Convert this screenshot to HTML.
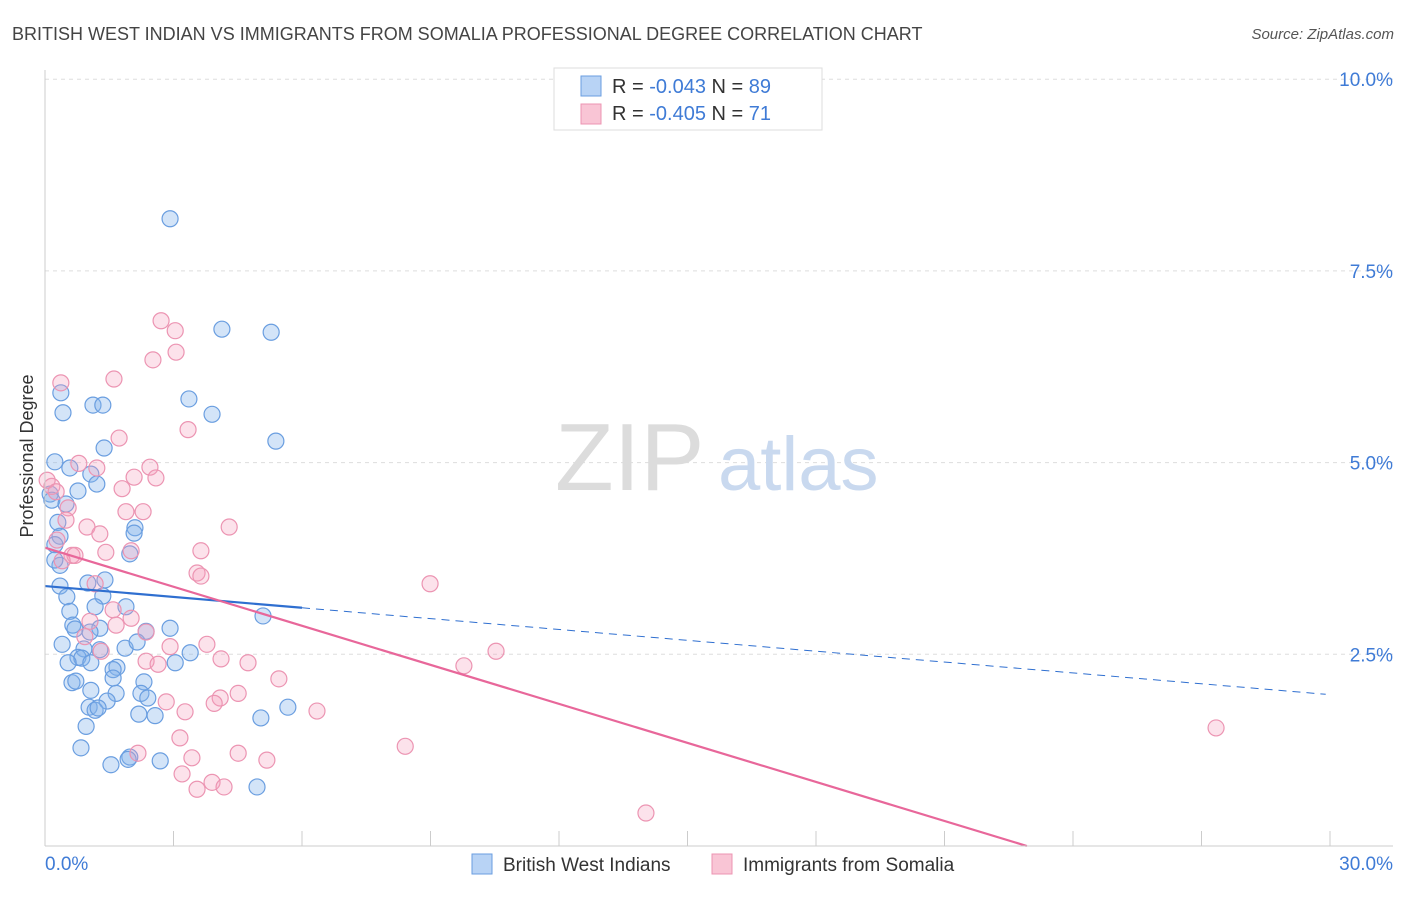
<!DOCTYPE html>
<html><head><meta charset="utf-8"><style>
body{margin:0;background:#fff;font-family:"Liberation Sans",sans-serif;}
svg text{font-family:"Liberation Sans",sans-serif;}
</style></head><body>
<svg id="chart" width="1406" height="892" viewBox="0 0 1406 892" xmlns="http://www.w3.org/2000/svg">
<text x="12" y="40" font-size="18" fill="#444">BRITISH WEST INDIAN VS IMMIGRANTS FROM SOMALIA PROFESSIONAL DEGREE CORRELATION CHART</text>
<text x="1394" y="39" font-size="15" fill="#555" text-anchor="end" font-style="italic">Source: ZipAtlas.com</text>
<g id="grid"></g>
<g>
<text x="555" y="490" font-size="96" fill="#dcdcdc" font-family="Liberation Serif, serif">ZIP</text>
<text x="718" y="490" font-size="76" fill="#c9d9ef">atlas</text>
</g>
<text transform="translate(33,456) rotate(-90)" font-size="18" fill="#333" text-anchor="middle">Professional Degree</text>
<g id="pts"></g>
<g id="lines"></g>
<g id="axes"></g>
<g>
<rect x="554" y="68" width="268" height="62" fill="#fff" stroke="#ddd"/>
<rect x="581" y="76" width="20" height="20" fill="#b8d3f5" stroke="#6a9ee0"/>
<rect x="581" y="104" width="20" height="20" fill="#f9c5d5" stroke="#ec94b2"/>
<text x="612" y="93" font-size="20" fill="#333">R = <tspan fill="#3f7bd6">-0.043</tspan>   N = <tspan fill="#3f7bd6">89</tspan></text>
<text x="612" y="120" font-size="20" fill="#333">R = <tspan fill="#3f7bd6">-0.405</tspan>   N =  <tspan fill="#3f7bd6">71</tspan></text>
</g>
<g>
<rect x="472" y="854" width="20" height="20" fill="#b8d3f5" stroke="#6a9ee0"/>
<text x="503" y="871" font-size="19" fill="#333">British West Indians</text>
<rect x="712" y="854" width="20" height="20" fill="#f9c5d5" stroke="#ec94b2"/>
<text x="743" y="871" font-size="19" fill="#333">Immigrants from Somalia</text>
</g>
</svg>
<script>
const yTicks=[2.5,5.0,7.5,10.0];
const yTickLabels=["2.5%","5.0%","7.5%","10.0%"];
const xTickLabels=["0.0%","30.0%"];
const blueX=[2.92,4.13,5.28,3.36,3.90,0.37,0.42,1.12,1.35,5.39,1.38,0.23,0.58,1.07,1.21,0.77,0.12,0.16,0.49,0.30,0.35,2.10,2.08,0.23,1.98,0.35,0.23,1.00,1.40,0.35,0.51,1.35,1.89,1.17,0.58,5.09,0.65,0.70,1.28,1.05,2.92,2.36,0.40,1.87,2.15,0.91,1.28,0.77,0.86,0.54,1.07,3.39,3.04,1.68,1.59,0.63,0.72,2.31,1.59,1.07,1.66,2.24,2.40,1.45,1.03,1.17,1.24,2.19,2.57,5.67,5.04,0.96,0.84,1.98,1.94,1.54,2.69,4.95];
const blueY=[8.18,6.74,6.70,5.83,5.63,5.91,5.65,5.75,5.75,5.28,5.19,5.01,4.93,4.85,4.72,4.63,4.59,4.51,4.46,4.22,4.04,4.15,4.08,3.93,3.81,3.66,3.73,3.43,3.47,3.39,3.25,3.26,3.12,3.12,3.06,3.00,2.88,2.83,2.84,2.79,2.84,2.80,2.63,2.58,2.66,2.57,2.56,2.46,2.45,2.39,2.39,2.52,2.39,2.33,2.30,2.13,2.15,2.14,2.19,2.03,1.99,1.99,1.93,1.89,1.81,1.77,1.80,1.72,1.70,1.81,1.67,1.56,1.28,1.16,1.13,1.06,1.11,0.77];
const pinkX=[2.71,3.04,3.06,2.52,0.37,1.61,3.34,1.73,0.79,1.21,2.45,2.59,2.08,1.80,0.16,0.05,0.26,0.54,0.49,2.29,1.89,4.30,0.98,1.28,0.28,2.01,1.42,3.64,0.63,0.70,0.40,3.55,3.64,8.99,1.17,1.59,2.01,1.66,1.05,2.36,0.93,3.78,1.31,2.92,10.53,2.36,2.64,4.11,4.74,9.78,5.46,4.51,4.09,3.95,2.83,3.27,6.35,3.15,8.41,27.34,2.17,3.43,4.51,5.18,3.20,3.90,4.18,3.55,14.03];
const pinkY=[6.85,6.72,6.44,6.34,6.04,6.09,5.43,5.32,4.99,4.93,4.94,4.80,4.81,4.66,4.69,4.77,4.62,4.41,4.25,4.36,4.36,4.16,4.16,4.07,3.99,3.85,3.83,3.85,3.79,3.79,3.72,3.56,3.52,3.42,3.42,3.08,2.97,2.88,2.93,2.79,2.73,2.63,2.54,2.60,2.54,2.41,2.37,2.44,2.39,2.35,2.18,1.99,1.93,1.86,1.88,1.75,1.76,1.41,1.30,1.54,1.21,1.15,1.21,1.12,0.94,0.83,0.77,0.74,0.43];
const blueFit=[3.39,-0.0472];
const pinkFit=[3.89,-0.1697];
const NS="http://www.w3.org/2000/svg";
const X0=45,X1=1330,Y0=846,YPER=191.7/2.5;
function sx(v){return X0+(v/30)*(X1-X0);}
function sy(v){return Y0-v*YPER;}
function mk(tag,attrs,parent){const e=document.createElementNS(NS,tag);for(const k in attrs)e.setAttribute(k,attrs[k]);parent.appendChild(e);return e;}
const grid=document.getElementById('grid'),axes=document.getElementById('axes'),pts=document.getElementById('pts'),lines=document.getElementById('lines');
yTicks.forEach((t,i)=>{
 const l=mk('line',{x1:45,x2:1393,y1:sy(t),y2:sy(t),stroke:'#ddd','stroke-dasharray':'4,4'},grid);
 
 
 const tx=mk('text',{x:1393,y:sy(t)+7,'font-size':19,fill:'#3f7bd6','text-anchor':'end'},axes);
 tx.textContent=yTickLabels[i];
 
 
});
const yl=mk('line',{x1:45,x2:45,y1:70,y2:846,stroke:'#ccc'},axes);


const xl=mk('line',{x1:45,x2:1393,y1:846,y2:846,stroke:'#ccc'},axes);


for(let i=0;i<=10;i++){
 const t=mk('line',{x1:sx(i*3),x2:sx(i*3),y1:831,y2:846,stroke:'#ccc'},axes);
 
 
}
[[0,'start',45],[30,'end',1393]].forEach((a,i)=>{
 const tx=mk('text',{x:a[2],y:870,'font-size':19,fill:'#3f7bd6','text-anchor':a[1]},axes);
 tx.textContent=xTickLabels[i];
 
 
});
blueX.forEach((x,i)=>{
 const c=mk('circle',{cx:sx(x),cy:sy(blueY[i]),r:8,fill:'rgba(130,178,235,0.35)',stroke:'#6a9ee0','stroke-width':1.2},pts);
 
 
});
pinkX.forEach((x,i)=>{
 const c=mk('circle',{cx:sx(x),cy:sy(pinkY[i]),r:8,fill:'rgba(245,160,190,0.3)',stroke:'#ec94b2','stroke-width':1.2},pts);
 
 
});
const bs=mk('line',{x1:sx(0),y1:sy(blueFit[0]),x2:sx(6),y2:sy(blueFit[0]+blueFit[1]*6),stroke:'#2f6fd0','stroke-width':2.2},lines);


const bd=mk('line',{x1:sx(6),y1:sy(blueFit[0]+blueFit[1]*6),x2:sx(29.9),y2:sy(blueFit[0]+blueFit[1]*29.9),stroke:'#2f6fd0','stroke-width':1,'stroke-dasharray':'8,6'},lines);


const xEnd=-pinkFit[0]/pinkFit[1];
const pl=mk('line',{x1:sx(0),y1:sy(pinkFit[0]),x2:sx(xEnd),y2:sy(0),stroke:'#e8679a','stroke-width':2.2},lines);


</script>
</body></html>
